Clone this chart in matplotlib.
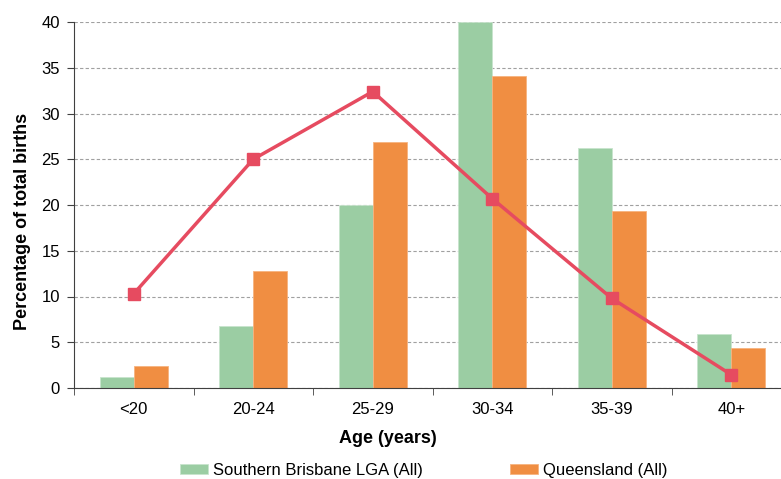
import numpy as np
import matplotlib.pyplot as plt

plt.rcParams['font.family'] = ['Liberation Sans', 'DejaVu Sans']

ages = ['<20', '20-24', '25-29', '30-34', '35-39', '40+']
southern_brisbane = [1.2, 6.8, 20.0, 40.0, 26.2, 5.9]
queensland = [2.4, 12.8, 26.9, 34.1, 19.3, 4.4]
line_series = [10.3, 25.0, 32.4, 20.7, 9.8, 1.45]

green = '#9BCDA3'
orange = '#F08E42'
red = '#E64B60'

fig = plt.figure(figsize=(7.81, 4.79), dpi=100)
ax = fig.add_axes([74/781, 91/479, 717/781, 366/479])

x = np.arange(len(ages))
w = 0.285
ax.bar(x - w/2, southern_brisbane, w, color=green, edgecolor='#C8E4CD', linewidth=0.6,
       label='Southern Brisbane LGA (All)', zorder=2)
ax.bar(x + w/2, queensland, w, color=orange, edgecolor='#F6B37F', linewidth=0.6,
       label='Queensland (All)', zorder=2)
ax.plot(x, line_series, color=red, lw=2.5, marker='s', ms=8.5, zorder=3)

ax.set_xlim(-0.5, len(ages) - 0.5)
ax.set_ylim(0, 40)
ax.set_yticks(range(0, 41, 5))
ax.yaxis.grid(True, linestyle=(0, (3, 2)), color='#A0A0A0', linewidth=0.8, zorder=0)
ax.set_axisbelow(True)

ax.set_xticks(x)
ax.set_xticklabels(ages)
ax.set_xticks(np.arange(-0.5, len(ages), 1), minor=True)
ax.tick_params(axis='x', which='major', length=0, pad=10, labelsize=12)
ax.tick_params(axis='x', which='minor', length=5, color='#404040')
ax.tick_params(axis='y', length=5, color='#404040', labelsize=12, pad=5)

for s in ['top', 'right']:
    ax.spines[s].set_visible(False)
for s in ['left', 'bottom']:
    ax.spines[s].set_color('#404040')

ax.set_xlabel('Age (years)', fontsize=13, fontweight='bold')
ax.xaxis.set_label_coords(0.438, -0.115)
ax.set_ylabel('Percentage of total births', fontsize=13, fontweight='bold')
ax.yaxis.set_label_coords(-0.06, 0.456)

fig.legend(loc='center', bbox_to_anchor=(424/781, 9/479), ncol=2, frameon=False,
           fontsize=12, handlelength=1.7, handleheight=0.55, columnspacing=5.2,
           handletextpad=0.3)

fig.savefig('out.png', dpi=100)
